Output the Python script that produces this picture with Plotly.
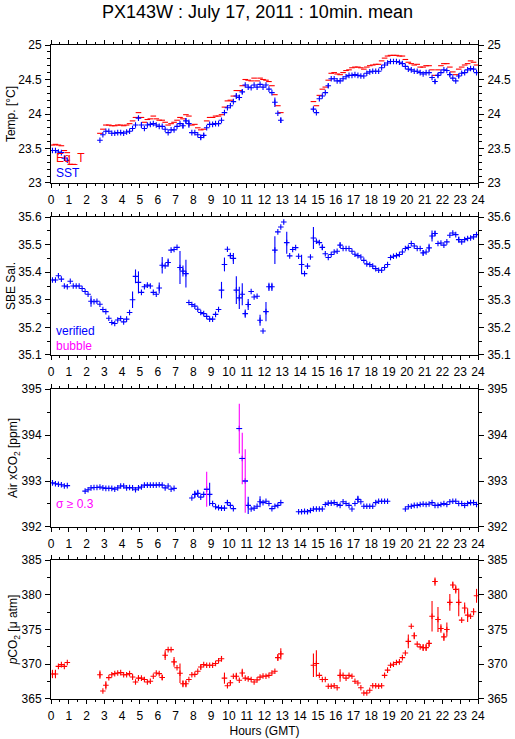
"""PX143W daily underway plot: temperature, salinity, air xCO2 and pCO2."""

import plotly.graph_objects as go

# 10-minute means, centred in each interval (hours GMT)
hours = [k / 6 + 1 / 12 for k in range(144)]

# Equilibrator temperature (red), one row per hour
eq_t = [
    23.55, 23.56, 23.55, 23.54, 23.47, 23.44,
    23.27, 23.27, None, None, None, None,
    None, None, None, None, 23.72, 23.78,
    23.84, 23.84, 23.83, 23.83, 23.84, 23.84,
    23.83, 23.84, 23.86, 23.90, 23.95, 24.02,
    23.95, 23.88, 23.92, 23.93, 23.97, 23.93,
    23.91, 23.91, 23.88, 23.84, 23.86, 23.88,
    23.91, 23.95, 23.93, 23.99, 23.97, 23.84,
    23.85, 23.80, 23.77, 23.78, 23.90, 23.95,
    23.95, 23.97, 23.97, 23.99, 24.10, 24.19,
    24.20, 24.26, 24.34, 24.34, 24.41, 24.50,
    24.49, 24.48, 24.52, 24.48, 24.52, 24.50,
    24.49, 24.47, 24.41, 24.28, 24.12, 24.02,
    None, None, None, None, None, None,
    None, None, None, None, 24.18, 24.12,
    24.27, 24.36, 24.39, 24.49, 24.59, 24.60,
    24.58, 24.57, 24.60, 24.63, 24.64, 24.67,
    24.68, 24.68, 24.67, 24.65, 24.68, 24.70,
    24.71, 24.72, 24.72, 24.77, 24.81, 24.84,
    24.85, 24.85, 24.85, 24.84, 24.84, 24.79,
    24.75, 24.73, 24.71, 24.72, 24.68, 24.68,
    24.70, 24.70, 24.64, 24.56, 24.64, 24.70,
    24.73, 24.73, 24.68, 24.61, 24.57, 24.65,
    24.68, 24.71, 24.73, 24.77, 24.75, 24.71,
]

# Sea surface temperature (blue)
sst = [
    23.47, 23.47, 23.45, 23.44, 23.36, 23.33,
    None, None, None, None, None, None,
    None, None, None, None, 23.62, 23.70,
    23.75, 23.75, 23.72, 23.72, 23.73, 23.73,
    23.72, 23.74, 23.75, 23.79, 23.84, 23.94,
    23.84, 23.79, 23.84, 23.85, 23.86, 23.84,
    23.82, 23.82, 23.78, 23.73, 23.77, 23.77,
    23.82, 23.86, 23.83, 23.90, 23.86, 23.73,
    23.73, 23.70, 23.66, 23.69, 23.80, 23.85,
    23.85, 23.86, 23.86, 23.91, 24.02, 24.09,
    24.12, 24.18, 24.26, 24.24, 24.32, 24.42,
    24.39, 24.38, 24.42, 24.39, 24.43, 24.39,
    24.42, 24.36, 24.31, 24.17, 24.01, 23.91,
    None, None, None, None, None, None,
    None, None, None, None, 24.07, 24.02,
    24.22, 24.26, 24.31, 24.41, 24.51, 24.51,
    24.48, 24.48, 24.51, 24.54, 24.56, 24.56,
    24.57, 24.56, 24.55, 24.55, 24.59, 24.61,
    24.62, 24.62, 24.62, 24.67, 24.71, 24.74,
    24.76, 24.76, 24.76, 24.75, 24.73, 24.69,
    24.65, 24.64, 24.62, 24.62, 24.60, 24.58,
    24.60, 24.60, 24.53, 24.47, 24.56, 24.60,
    24.64, 24.63, 24.57, 24.52, 24.48, 24.55,
    24.59, 24.60, 24.64, 24.66, 24.65, 24.60,
]
sst_sd = {29: 0.03, 30: 0.04, 44: 0.04, 45: 0.04, 46: 0.06, 50: 0.03,
          51: 0.03, 62: 0.04, 63: 0.04, 64: 0.03, 75: 0.07, 77: 0.04,
          88: 0.03, 93: 0.03, 129: 0.03, 130: 0.03, 134: 0.03, 137: 0.03}

# SBE salinity (verified)
sal = [
    35.372, 35.372, 35.387, 35.375, 35.350, 35.347,
    35.367, 35.350, 35.350, 35.350, 35.341, 35.330,
    35.320, 35.295, 35.293, 35.295, 35.284, 35.265,
    35.257, 35.233, 35.218, 35.214, 35.227, 35.232,
    35.220, 35.230, 35.254, 35.300, 35.385, 35.363,
    35.327, 35.347, 35.353, 35.350, 35.327, 35.320,
    35.343, 35.425, 35.423, 35.435, 35.480, 35.482,
    35.490, 35.417, 35.404, 35.395, 35.290, 35.283,
    35.277, 35.266, 35.254, 35.250, 35.240, 35.230,
    35.230, 35.247, 35.265, 35.335, 35.428, 35.483,
    35.460, 35.450, 35.335, 35.307, 35.320, 35.250,
    35.283, 35.330, 35.310, 35.313, 35.226, 35.187,
    35.257, 35.347, 35.347, 35.480, 35.546, 35.564,
    35.582, 35.507, 35.459, 35.482, 35.489, 35.458,
    35.428, 35.395, 35.422, 35.455, 35.524, 35.512,
    35.507, 35.490, 35.467, 35.453, 35.464, 35.473,
    35.476, 35.498, 35.486, 35.486, 35.486, 35.476,
    35.465, 35.460, 35.455, 35.443, 35.430, 35.428,
    35.422, 35.413, 35.407, 35.407, 35.417, 35.428,
    35.453, 35.458, 35.460, 35.464, 35.473, 35.486,
    35.490, 35.504, 35.495, 35.486, 35.486, 35.470,
    35.473, 35.488, 35.531, 35.540, 35.504, 35.506,
    35.498, 35.510, 35.534, 35.542, 35.536, 35.518,
    35.510, 35.518, 35.522, 35.524, 35.528, 35.536,
]
sal_sd = {13: 0.02, 27: 0.03, 28: 0.025, 29: 0.04, 36: 0.02, 37: 0.03,
          39: 0.015, 43: 0.06, 44: 0.02, 45: 0.05, 57: 0.03, 58: 0.025,
          60: 0.01, 61: 0.02, 62: 0.05, 63: 0.04, 64: 0.04, 65: 0.015,
          66: 0.02, 70: 0.02, 72: 0.035, 73: 0.015, 74: 0.015, 75: 0.05,
          79: 0.04, 84: 0.035, 88: 0.04, 91: 0.01, 97: 0.01, 125: 0.01,
          127: 0.015, 128: 0.02, 129: 0.01, 137: 0.01}

# Atmospheric xCO2 [ppm]
xco2 = [
    392.96, 392.94, 392.93, 392.92, 392.89, 392.90,
    None, None, None, None, None, 392.78,
    392.81, 392.85, 392.86, 392.86, 392.87, 392.85,
    392.84, 392.84, 392.84, 392.82, 392.85, 392.89,
    392.89, 392.85, 392.86, 392.85, 392.81, 392.85,
    392.87, 392.91, 392.91, 392.91, 392.91, 392.91,
    392.92, 392.91, 392.85, 392.89, 392.82, 392.84,
    None, None, None, None, None, 392.63,
    392.71, 392.73, 392.65, 392.71, 392.82, 392.71,
    392.51, 392.44, 392.42, 392.41, 392.41, 392.53,
    392.47, 392.40, None, 394.14, 393.49, 393.00,
    392.47, 392.39, 392.41, 392.45, 392.55, 392.53,
    392.56, 392.51, 392.40, 392.45, 392.47, 392.53,
    None, None, None, None, None, 392.33,
    392.33, 392.34, 392.33, 392.36, 392.39, 392.39,
    392.39, 392.39, 392.49, 392.52, 392.52, 392.53,
    392.49, 392.47, 392.55, 392.51, 392.47, 392.39,
    392.51, 392.60, 392.55, 392.45, 392.45, 392.45,
    392.45, 392.53, 392.56, 392.56, 392.56, 392.56,
    None, None, None, None, None, 392.39,
    392.44, 392.45, 392.47, 392.47, 392.49, 392.50,
    392.49, 392.50, 392.53, 392.47, 392.47, 392.49,
    392.51, 392.49, 392.55, 392.56, 392.56, 392.51,
    392.51, 392.47, 392.51, 392.53, 392.53, 392.49,
]
xco2_sd = {48: 0.08, 49: 0.08, 52: 0.38, 53: 0.25, 59: 0.05, 63: 0.54,
           64: 0.56, 65: 0.69, 66: 0.19, 70: 0.12, 103: 0.08}
xco2_flag = [52, 63, 64, 65]  # sigma >= 0.3

# Seawater pCO2 [uatm]
pco2 = [
    368.60, 368.60, 369.70, 369.95, 369.70, 370.25,
    None, None, None, None, None, None,
    None, None, None, None, 368.50, 366.15,
    366.97, 368.08, 368.50, 368.65, 368.75, 368.80,
    368.50, 368.50, 368.65, 368.17, 367.45, 368.00,
    368.00, 367.80, 367.45, 367.55, 368.27, 368.75,
    368.65, 368.10, 371.30, 372.10, 372.10, 370.35,
    369.50, 368.70, 367.20, 367.20, 367.80, 368.50,
    368.55, 369.00, 369.60, 369.95, 369.85, 369.85,
    369.85, 370.10, 370.50, 370.80, 368.00, 366.90,
    367.35, 368.27, 368.27, 367.70, 368.75, 368.00,
    367.90, 367.80, 367.45, 367.75, 368.15, 368.30,
    368.27, 368.40, 368.75, 369.00, 370.96, 371.50,
    None, None, None, None, None, None,
    None, None, None, None, 369.85, 370.10,
    368.40, 367.80, 367.80, 366.83, 366.83, 366.90,
    366.63, 368.40, 368.40, 368.00, 368.40, 368.27,
    367.55, 367.30, 366.63, 365.87, 365.87, 366.25,
    366.90, 366.90, 366.83, 366.90, 368.40, 369.15,
    369.85, 370.00, 370.25, 370.35, 370.96, 371.63,
    373.30, 375.48, 374.10, 372.90, 372.50, 372.40,
    372.40, 373.00, 376.90, 381.90, 376.44, 375.15,
    373.94, 375.00, 378.90, 381.40, 380.77, 378.90,
    376.35, 378.10, 377.07, 376.90, 377.55, 379.85,
]
pco2_sd = {0: 0.6, 1: 0.6, 16: 0.6, 18: 0.6, 27: 0.4, 29: 0.4, 37: 0.4,
           38: 0.7, 41: 0.7, 43: 1.4, 44: 0.5, 45: 0.5, 50: 0.4, 57: 0.4,
           58: 0.8, 60: 0.4, 62: 0.5, 64: 0.6, 76: 0.5, 77: 0.8, 88: 1.7,
           89: 1.9, 97: 0.9, 120: 1.0, 122: 0.5, 125: 0.5, 126: 0.5,
           127: 0.5, 128: 2.2, 129: 0.6, 130: 1.8, 131: 0.6, 132: 0.6,
           133: 1.0, 134: 1.2, 135: 0.5, 136: 0.6, 137: 2.0, 139: 0.8,
           140: 1.0, 142: 0.5, 143: 1.0}

BLUE = "#0000ff"
RED = "#ff0000"
MAGENTA = "#ff00ff"
FONT = "Liberation Sans, Arial, sans-serif"

# panel settings: (y range, major dtick, minor dtick, axis title)
panels = [
    ([23, 25], 0.5, 0.1, "Temp. [°C]"),
    ([35.1, 35.6], 0.1, 0.05, "SBE Sal."),
    ([392, 395], 1, 0.5, "Air xCO<sub>2</sub> [ppm]"),
    ([365, 385], 5, 2.5, "<i>p</i>CO<sub>2</sub> [μ atm]"),
]
domains = [[0.789, 1.0], [0.526, 0.737], [0.263, 0.474], [0.0, 0.2125]]


def err_list(sd, skip=()):
    return [0 if k in skip else sd.get(k, 0) for k in range(len(hours))]


def points(x, y, axis, color, symbol="cross-thin", sd=None, err_color=None):
    n = "" if axis == 1 else str(axis)
    tr = go.Scatter(
        x=x, y=y, xaxis="x" + n, yaxis="y" + n,
        mode="markers",
        marker=dict(symbol=symbol, size=4, color=color,
                    line=dict(color=color, width=1.1)),
        hoverinfo="skip", showlegend=False,
    )
    if sd is not None:
        tr.error_y = dict(type="data", array=sd, visible=True, width=0,
                          thickness=1.1, color=err_color or color)
    return tr


fig = go.Figure()

# Panel 1: temperatures
fig.add_trace(points(hours, eq_t, 1, RED, symbol="line-ew"))
fig.add_trace(points(hours, sst, 1, BLUE, sd=err_list(sst_sd)))

# Panel 2: salinity
fig.add_trace(points(hours, sal, 2, BLUE, sd=err_list(sal_sd)))

# Panel 3: air xCO2, flagged points get magenta bars
fig.add_trace(points(hours, xco2, 3, BLUE, sd=err_list(xco2_sd, xco2_flag)))
fig.add_trace(points([hours[k] for k in xco2_flag],
                     [xco2[k] for k in xco2_flag], 3, BLUE, symbol="line-ew",
                     sd=[xco2_sd[k] for k in xco2_flag], err_color=MAGENTA))

# Panel 4: pCO2
fig.add_trace(points(hours, pco2, 4, RED, sd=err_list(pco2_sd)))

layout = dict(
    width=515, height=739,
    margin=dict(l=51, r=37, t=45, b=40),
    paper_bgcolor="white", plot_bgcolor="white",
    font=dict(family=FONT, size=12, color="black"),
    title=dict(text="PX143W : July 17, 2011 : 10min. mean", x=0.5, xanchor="center",
               y=1 - 12 / 739, yanchor="middle", font=dict(size=18)),
    showlegend=False,
)

for i, (rng, dt, mdt, title) in enumerate(panels, start=1):
    n = "" if i == 1 else str(i)
    layout["xaxis" + n] = dict(
        domain=[0, 1], range=[0, 24], anchor="y" + n, automargin=False,
        tick0=0, dtick=1, ticks="outside", ticklen=4, tickcolor="black",
        minor=dict(dtick=0.5, ticks="outside", ticklen=2, tickcolor="black", showgrid=False),
        showline=True, linecolor="black", linewidth=1, mirror="ticks",
        showgrid=False, zeroline=False, fixedrange=True,
        tickfont=dict(size=12), ticklabelstandoff=2,
    )
    layout["yaxis" + n] = dict(
        domain=domains[i - 1], range=rng, anchor="x" + n, automargin=False,
        tick0=rng[0], dtick=dt, ticks="outside", ticklen=5, tickcolor="black",
        minor=dict(dtick=mdt, ticks="outside", ticklen=3, tickcolor="black", showgrid=False),
        showline=True, linecolor="black", linewidth=1, mirror="ticks",
        showgrid=False, zeroline=False,
        title=dict(text=title, font=dict(size=12), standoff=0),
        tickfont=dict(size=12), ticklabelstandoff=1,
    )
    # right-hand copy of the y labels
    layout["yaxis" + str(i + 4)] = dict(
        domain=domains[i - 1], range=rng, anchor="x" + n, overlaying="y" + n,
        side="right", tick0=rng[0], dtick=dt, ticks="outside", ticklen=5,
        tickcolor="black", showline=False, showgrid=False, zeroline=False,
        tickfont=dict(size=12), ticklabelstandoff=1, automargin=False,
    )
    fig.add_trace(go.Scatter(x=[0], y=[rng[0]], xaxis="x" + n, yaxis="y" + str(i + 4),
                             mode="markers", marker=dict(opacity=0),
                             hoverinfo="skip", showlegend=False))

layout["xaxis4"]["title"] = dict(text="Hours (GMT)", font=dict(size=12), standoff=4)


def label(text, color, y):
    return dict(text=text, x=0.006, y=y, xref="paper", yref="paper",
                xanchor="left", yanchor="middle", showarrow=False,
                font=dict(color=color, size=12))


layout["annotations"] = [
    label("Eq_T", RED, 0.8270),
    label("SST", BLUE, 0.8050),
    label("verified", BLUE, 0.5630),
    label("bubble", MAGENTA, 0.5400),
    label("σ ≥ 0.3", MAGENTA, 0.2982),
]

fig.update_layout(layout)
# the page's default body margin would shift the figure by 8 px
fig.write_html("out.html", config={"displayModeBar": False},
               post_script="document.body.style.margin = '0';")
